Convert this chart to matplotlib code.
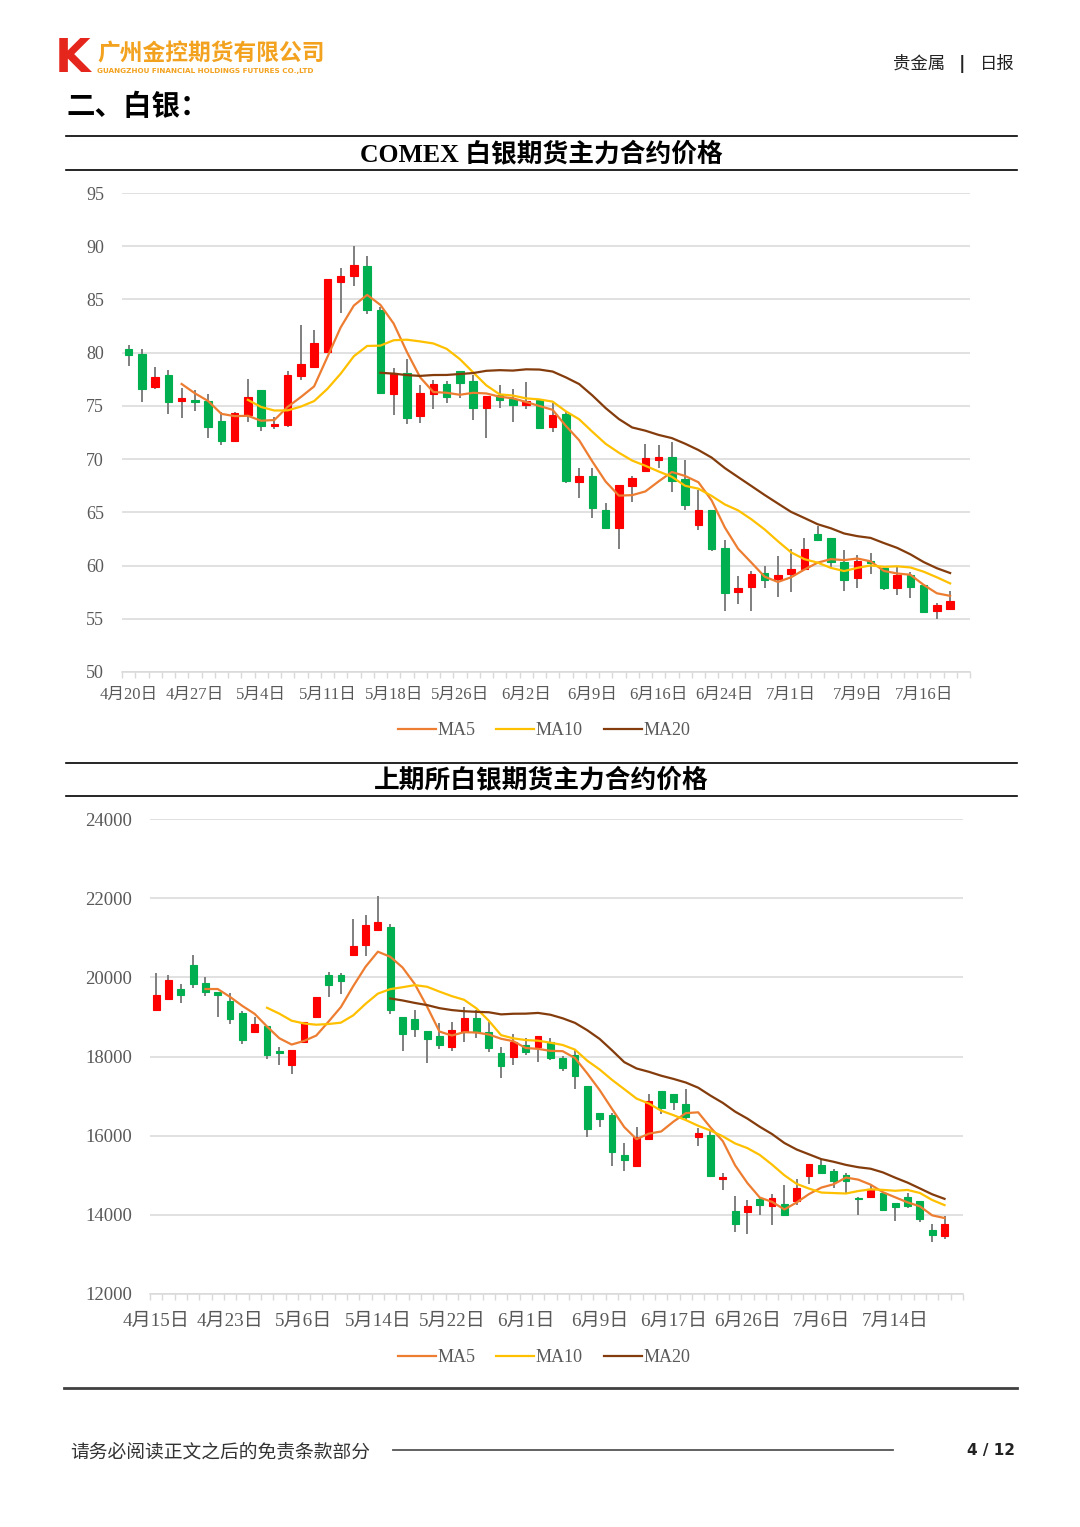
import numpy as np
import pandas as pd
import matplotlib
matplotlib.use('Agg')
import matplotlib.pyplot as plt
from matplotlib.lines import Line2D

# ---------------- data ----------------
comex_open = [80.31, 79.88, 76.75, 77.91, 75.47, 75.56, 75.50, 73.56, 71.69, 74.19,
              76.50, 73.09, 73.22, 77.81, 78.69, 80.03, 86.66, 87.22, 88.13, 84.00,
              76.13, 78.06, 74.03, 76.13, 77.06, 78.28, 77.34, 74.84, 76.03, 75.63,
              75.09, 75.56, 73.03, 74.22, 67.81, 68.38, 65.25, 63.50, 67.44, 68.84,
              69.91, 70.22, 68.09, 63.79, 65.26, 61.68, 57.54, 57.98, 59.33, 58.70,
              59.17, 59.67, 63.00, 62.56, 60.33, 58.83, 60.43, 59.80, 57.92, 59.11,
              58.17, 55.75, 55.88]
comex_high = [80.72, 80.38, 78.63, 78.38, 76.66, 76.53, 76.16, 74.38, 74.44, 77.50,
              76.50, 73.91, 78.28, 82.63, 82.13, 86.90, 87.94, 90.06, 89.06, 84.31,
              78.59, 79.38, 76.97, 77.44, 77.34, 78.28, 77.88, 75.94, 76.94, 76.56,
              77.28, 75.56, 75.31, 74.38, 69.13, 69.16, 65.88, 67.56, 68.44, 71.41,
              71.32, 71.63, 69.90, 67.08, 65.26, 62.40, 59.01, 59.45, 59.96, 60.90,
              61.53, 62.56, 63.72, 62.56, 61.43, 60.96, 61.15, 59.80, 59.89, 59.39,
              58.17, 56.47, 57.63]
comex_low = [78.75, 75.38, 76.63, 74.28, 73.88, 74.53, 71.94, 71.34, 71.69, 73.44,
             72.63, 72.81, 73.06, 77.47, 78.66, 80.00, 83.69, 86.31, 83.59, 76.09,
             74.13, 73.34, 73.41, 74.69, 75.28, 75.78, 73.72, 72.03, 74.81, 73.50,
             74.75, 72.91, 72.59, 67.72, 66.31, 64.50, 63.50, 61.56, 66.00, 68.84,
             69.12, 66.89, 65.23, 63.38, 61.40, 55.75, 56.41, 55.72, 57.85, 57.07,
             57.54, 59.67, 62.44, 59.86, 57.60, 57.92, 59.23, 57.66, 57.19, 56.97,
             55.66, 55.00, 55.80]
comex_close = [79.78, 76.63, 77.75, 75.41, 75.72, 75.41, 73.00, 71.72, 74.34, 75.88,
               73.09, 73.34, 77.88, 78.97, 80.88, 86.88, 87.22, 88.19, 83.97, 76.19,
               78.13, 73.88, 76.25, 77.06, 75.84, 77.19, 74.81, 75.94, 75.53, 75.09,
               75.47, 72.91, 74.16, 67.97, 68.38, 65.44, 63.50, 67.56, 68.19, 70.13,
               70.16, 67.90, 65.70, 65.26, 61.59, 57.41, 57.92, 59.20, 58.67, 59.08,
               59.64, 61.53, 62.44, 60.33, 58.61, 60.40, 60.21, 57.92, 59.14, 58.01,
               55.66, 56.25, 56.70]
comex_dates = ['4月20日', '4月27日', '5月4日', '5月11日', '5月18日', '5月26日', '6月2日',
               '6月9日', '6月16日', '6月24日', '7月1日', '7月9日', '7月16日']

shfe_open = [19165, 19460, 19713, 20312, 19848, 19629, 19409, 19105, 18616, 18768,
             18135, 17781, 18371, 19004, 20067, 20059, 20574, 20810, 21190, 21283,
             18996, 18953, 18647, 18529, 18235, 18613, 18983, 18613, 18084, 17975,
             18294, 18235, 18361, 17958, 18042, 17244, 16571, 16513, 15504, 15227,
             15916, 17118, 17050, 16798, 15966, 16008, 14911, 14093, 14067, 14388,
             14219, 14262, 14346, 14979, 15257, 15105, 15004, 14430, 14456, 14540,
             14287, 14447, 14338, 13612, 13460]
shfe_high = [20101, 20051, 19840, 20557, 20017, 19629, 19612, 19148, 18996, 18768,
             18228, 18152, 18867, 19510, 20143, 20118, 21468, 21570, 22059, 21350,
             18996, 19173, 18647, 18857, 18874, 19260, 19176, 18882, 18252, 18563,
             18462, 18521, 18462, 18025, 18168, 17244, 16571, 16571, 15815, 16210,
             17050, 17118, 17050, 17185, 16193, 16118, 15063, 14473, 14363, 14456,
             14515, 14743, 14894, 15274, 15401, 15148, 15063, 14456, 14743, 14540,
             14287, 14557, 14338, 13781, 13983]
shfe_low = [19165, 19460, 19359, 19721, 19527, 18996, 18827, 18321, 18616, 17949,
            17781, 17561, 18329, 18979, 19510, 19586, 20574, 20540, 21190, 19080,
            18135, 18498, 17832, 18185, 18151, 18361, 18462, 18126, 17454, 17790,
            18042, 17849, 17916, 17622, 17176, 15966, 16219, 15244, 15101, 15227,
            15916, 16555, 16656, 16378, 15748, 14979, 14624, 13561, 13519, 14008,
            13738, 14008, 14236, 14768, 15038, 14667, 14557, 14008, 14456, 14093,
            13856, 14177, 13814, 13308, 13392]
shfe_close = [19561, 19941, 19553, 19831, 19637, 19561, 18945, 18413, 18827, 18042,
              18076, 18152, 18867, 19510, 19814, 19907, 20793, 21316, 21409, 19173,
              18557, 18683, 18454, 18286, 18672, 18983, 18630, 18210, 17748, 18361,
              18126, 18521, 17958, 17706, 17496, 16177, 16429, 15588, 15395, 15966,
              16882, 16698, 16840, 16462, 16067, 14979, 14962, 13781, 14219, 14245,
              14430, 14008, 14667, 15274, 15063, 14852, 14852, 14405, 14641, 14110,
              14203, 14219, 13899, 13502, 13772]
shfe_dates = ['4月15日', '4月23日', '5月6日', '5月14日', '5月22日', '6月1日', '6月9日',
              '6月17日', '6月26日', '7月6日', '7月14日']

ma_windows = [5, 10, 20]
ma_names = ['MA5', 'MA10', 'MA20']

# ---------------- style ----------------
W, H = 1080, 1527
UP, DOWN, WICK = '#FF0000', '#00B050', '#7F7F7F'
MA_COLORS = ['#ED7D31', '#FFC000', '#843C0C']
GRID = '#D9D9D9'
TXT = '#595959'
SERIF = ['Liberation Serif', 'Noto Sans CJK SC']
CJK = ['Noto Sans CJK SC', 'DejaVu Sans']


def rect(x0, y0, x1, y1):
    return [x0 / W, 1 - y1 / H, (x1 - x0) / W, (y1 - y0) / H]


def hline(fig, x0, x1, y, color='black', lw=1.2):
    fig.add_artist(Line2D([x0 / W, x1 / W], [1 - y / H, 1 - y / H], color=color, lw=lw))


def put(fig, x, y, s, **kw):
    fig.text(x / W, 1 - y / H, s, **kw)


def candle_chart(ax, o, h, l, c, ylim, ystep, dates, step, nslots, fs_y, fs_x, xpad):
    o, h, l, c = map(np.array, (o, h, l, c))
    x = np.arange(len(o))
    up = c >= o
    cols = np.where(up, UP, DOWN)
    ax.vlines(x, l, h, color=WICK, lw=1.4, zorder=2)
    ax.bar(x, np.abs(c - o), 0.55, bottom=np.minimum(o, c), color=cols,
           edgecolor=cols, lw=0.8, zorder=3)
    closes = pd.Series(c)
    for win, col in zip(ma_windows, MA_COLORS):
        ax.plot(x, closes.rolling(win).mean(), color=col, lw=1.6, zorder=4)

    ax.set_xlim(-0.5, nslots - 0.5)
    ax.set_ylim(*ylim)
    ax.set_yticks(np.arange(ylim[0], ylim[1] + ystep / 2, ystep))
    ax.yaxis.grid(True, color=GRID, lw=1.1)
    ax.set_axisbelow(True)
    for s in ['top', 'right', 'left']:
        ax.spines[s].set_visible(False)
    ax.spines['bottom'].set_color(GRID)
    ax.spines['bottom'].set_linewidth(1.1)

    ax.set_xticks(np.arange(0, len(dates) * step, step))
    ax.set_xticklabels(dates)
    ax.set_xticks(np.arange(-0.5, nslots, 1), minor=True)
    ax.tick_params(axis='x', which='major', length=0, pad=xpad)
    ax.tick_params(axis='x', which='minor', length=4, color=GRID, width=1)
    ax.tick_params(axis='y', length=0, pad=13)
    for t in ax.get_yticklabels():
        t.set_fontfamily(SERIF)
        t.set_fontsize(fs_y)
        t.set_color(TXT)
    for t in ax.get_xticklabels():
        t.set_fontfamily(SERIF)
        t.set_fontsize(fs_x)
        t.set_color(TXT)


def ma_legend(fig, ycenter):
    handles = [Line2D([], [], color=col, lw=1.6) for col in MA_COLORS]
    leg = fig.legend(handles, ma_names, loc='center', ncol=3, frameon=False,
                     bbox_to_anchor=(544 / W, 1 - ycenter / H),
                     handlelength=2.1, handletextpad=0.1, columnspacing=1.15,
                     prop={'family': SERIF, 'size': 13})
    for t in leg.get_texts():
        t.set_color(TXT)


fig = plt.figure(figsize=(W / 100, H / 100), dpi=100)

# ---------------- page header ----------------
put(fig, 55, 59, 'K', fontsize=33, fontweight='bold', color='#E5261C',
    family='DejaVu Sans', ha='left', va='center')
put(fig, 97, 54, '广州金控期货有限公司', fontsize=16.4, fontweight='bold', color='#F2A21E',
    family=CJK, ha='left', va='center')
put(fig, 97, 71.5, 'GUANGZHOU FINANCIAL HOLDINGS FUTURES CO.,LTD', fontsize=5.2,
    fontweight='bold', color='#F2A21E', family='DejaVu Sans', ha='left', va='center')
put(fig, 919, 64, '贵金属', fontsize=12.5, color='#222222', family=CJK, ha='center', va='center')
put(fig, 962, 64, '|', fontsize=13, fontweight='bold', color='#222222', family='DejaVu Sans',
    ha='center', va='center')
put(fig, 997, 64, '日报', fontsize=12.5, color='#222222', family=CJK, ha='center', va='center')
put(fig, 66, 107, '二、白银：', fontsize=20.5, fontweight='bold', color='black',
    family=CJK, ha='left', va='center')

# ---------------- chart 1: COMEX ----------------
hline(fig, 66, 1017, 136)
put(fig, 541, 154, 'COMEX 白银期货主力合约价格', fontsize=18.5, fontweight='bold',
    family=SERIF, ha='center', va='center')
hline(fig, 66, 1017, 170)
ax1 = fig.add_axes(rect(122, 193, 970, 672))
candle_chart(ax1, comex_open, comex_high, comex_low, comex_close, (50, 95), 5,
             comex_dates, 5, 64, 13, 12, 10.5)
ma_legend(fig, 731)

# ---------------- chart 2: SHFE ----------------
hline(fig, 66, 1017, 763)
put(fig, 541, 780, '上期所白银期货主力合约价格', fontsize=18.5, fontweight='bold',
    family=CJK, ha='center', va='center')
hline(fig, 66, 1017, 796)
ax2 = fig.add_axes(rect(150, 819, 963, 1294))
candle_chart(ax2, shfe_open, shfe_high, shfe_low, shfe_close, (12000, 24000), 2000,
             shfe_dates, 6, 66, 13.5, 13.8, 13.5)
ma_legend(fig, 1358)

# ---------------- footer ----------------
hline(fig, 64, 1017, 1388, color='#404040', lw=2)
put(fig, 70, 1452, '请务必阅读正文之后的免责条款部分', fontsize=13.5, color='#333333',
    family=CJK, ha='left', va='center')
hline(fig, 393, 893, 1450, color='#555555', lw=1.3)
put(fig, 1015, 1451, '4 / 12', fontsize=11, fontweight='bold', color='#222222',
    family='DejaVu Sans', ha='right', va='center')

fig.savefig('out.png', dpi=100)
plt.close(fig)
